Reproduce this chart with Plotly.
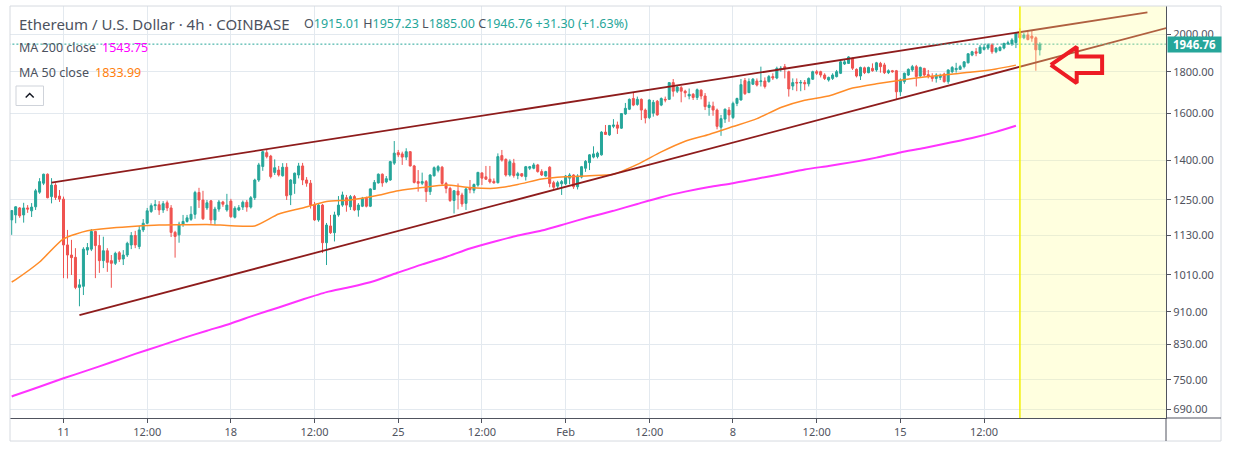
import math
import pandas as pd
import plotly.graph_objects as go

# ---------------- data ----------------
bar_start = "2021-01-08 20:00"   # first 4h bar

opens = [
    1181, 1198, 1222, 1198, 1222, 1212, 1226, 1278, 1311, 1345,
    1262, 1304, 1264, 1253, 1100, 1069, 1062, 975, 978, 1084,
    1087, 1143, 1098, 1052, 1082, 1052, 1044, 1076, 1057, 1069,
    1100, 1130, 1095, 1148, 1170, 1210, 1230, 1233, 1215, 1240,
    1222, 1140, 1132, 1167, 1176, 1183, 1200, 1277, 1250, 1222,
    1247, 1181, 1218, 1243, 1215, 1246, 1190, 1215, 1225, 1242,
    1225, 1258, 1323, 1375, 1430, 1416, 1352, 1361, 1339, 1372,
    1268, 1310, 1342, 1377, 1323, 1311, 1232, 1181, 1232, 1107,
    1161, 1139, 1198, 1232, 1258, 1226, 1262, 1215, 1228, 1256,
    1228, 1288, 1312, 1345, 1316, 1323, 1388, 1430, 1425, 1412,
    1434, 1377, 1317, 1311, 1317, 1280, 1339, 1360, 1372, 1310,
    1292, 1248, 1282, 1268, 1238, 1294, 1285, 1304, 1350, 1335,
    1326, 1318, 1313, 1418, 1403, 1342, 1388, 1340, 1347, 1336,
    1368, 1368, 1381, 1355, 1338, 1372, 1313, 1300, 1309, 1309,
    1330, 1342, 1298, 1334, 1368, 1390, 1412, 1414, 1421, 1516,
    1504, 1541, 1547, 1533, 1596, 1618, 1668, 1640, 1664, 1614,
    1580, 1600, 1655, 1637, 1664, 1664, 1745, 1703, 1720, 1703,
    1680, 1688, 1673, 1708, 1680, 1626, 1632, 1614, 1537, 1573,
    1614, 1580, 1645, 1661, 1755, 1696, 1737, 1753, 1750, 1753,
    1750, 1775, 1768, 1812, 1826, 1800, 1728, 1746, 1743, 1746,
    1739, 1762, 1800, 1800, 1783, 1758, 1766, 1775, 1792, 1840,
    1843, 1869, 1812, 1778, 1820, 1795, 1817, 1809, 1843, 1835,
    1795, 1805, 1805, 1700, 1750, 1783, 1809, 1826, 1778, 1817,
    1785, 1775, 1766, 1771, 1788, 1750, 1800, 1810, 1812, 1826,
    1846, 1887, 1905, 1897, 1918, 1925, 1942, 1905, 1912, 1925,
    1948, 1948, 1955, 2007, 1982, 1998, 1992, 1982, 1915.01,
]
highs = [
    1215, 1228, 1225, 1240, 1232, 1239, 1290, 1330, 1347, 1348,
    1330, 1311, 1286, 1262, 1148, 1116, 1090, 998, 1093, 1106,
    1151, 1145, 1132, 1126, 1090, 1069, 1079, 1081, 1084, 1110,
    1141, 1145, 1161, 1184, 1222, 1238, 1250, 1246, 1246, 1248,
    1232, 1145, 1175, 1198, 1198, 1228, 1283, 1294, 1283, 1250,
    1250, 1226, 1250, 1247, 1272, 1254, 1228, 1232, 1248, 1250,
    1264, 1328, 1389, 1438, 1444, 1421, 1403, 1377, 1388, 1388,
    1326, 1351, 1389, 1389, 1334, 1323, 1243, 1236, 1236, 1171,
    1198, 1209, 1264, 1280, 1268, 1268, 1268, 1239, 1261, 1262,
    1292, 1323, 1348, 1348, 1338, 1397, 1478, 1441, 1434, 1448,
    1436, 1381, 1361, 1351, 1323, 1345, 1375, 1380, 1377, 1316,
    1298, 1286, 1310, 1276, 1294, 1323, 1310, 1354, 1352, 1377,
    1377, 1329, 1427, 1441, 1407, 1403, 1405, 1354, 1349, 1377,
    1377, 1389, 1385, 1364, 1358, 1376, 1320, 1320, 1323, 1342,
    1349, 1345, 1345, 1377, 1400, 1424, 1456, 1434, 1520, 1547,
    1547, 1573, 1562, 1600, 1647, 1668, 1696, 1677, 1668, 1621,
    1664, 1661, 1661, 1673, 1677, 1748, 1763, 1728, 1728, 1710,
    1716, 1694, 1716, 1712, 1694, 1653, 1653, 1621, 1592, 1621,
    1628, 1653, 1672, 1763, 1768, 1766, 1768, 1766, 1826, 1771,
    1783, 1792, 1826, 1829, 1840, 1805, 1766, 1766, 1758, 1758,
    1771, 1805, 1809, 1805, 1792, 1775, 1792, 1809, 1861, 1865,
    1881, 1874, 1817, 1826, 1826, 1826, 1843, 1851, 1851, 1846,
    1812, 1809, 1809, 1766, 1795, 1817, 1835, 1835, 1826, 1820,
    1809, 1792, 1792, 1790, 1795, 1812, 1829, 1846, 1835, 1855,
    1897, 1910, 1925, 1942, 1948, 1951, 1951, 1930, 1934, 1954,
    1966, 1980, 2013, 2036, 2009, 2020, 2024, 1990, 1957.23,
]
lows = [
    1132, 1170, 1188, 1172, 1205, 1191, 1215, 1272, 1304, 1256,
    1238, 1250, 1243, 1001, 1000, 1010, 970, 924, 954, 1069,
    1081, 1001, 1016, 1030, 1019, 974, 1039, 1048, 1039, 1063,
    1087, 1090, 1087, 1141, 1167, 1205, 1215, 1198, 1205, 1211,
    1125, 1061, 1107, 1158, 1172, 1178, 1185, 1222, 1181, 1215,
    1168, 1164, 1209, 1226, 1209, 1188, 1186, 1211, 1215, 1209,
    1220, 1250, 1316, 1358, 1407, 1329, 1342, 1336, 1336, 1250,
    1232, 1272, 1329, 1304, 1298, 1220, 1178, 1175, 1075, 1039,
    1135, 1111, 1192, 1226, 1209, 1215, 1211, 1192, 1225, 1224,
    1225, 1286, 1310, 1298, 1311, 1320, 1381, 1412, 1381, 1400,
    1375, 1310, 1280, 1304, 1243, 1268, 1336, 1352, 1304, 1274,
    1243, 1203, 1217, 1226, 1215, 1274, 1274, 1298, 1304, 1323,
    1310, 1310, 1310, 1394, 1336, 1336, 1332, 1326, 1334, 1321,
    1361, 1364, 1351, 1338, 1336, 1296, 1286, 1290, 1268, 1304,
    1307, 1290, 1288, 1329, 1354, 1361, 1407, 1407, 1418, 1504,
    1500, 1533, 1508, 1530, 1592, 1614, 1632, 1634, 1569, 1554,
    1573, 1584, 1588, 1632, 1650, 1661, 1677, 1694, 1650, 1674,
    1664, 1661, 1661, 1664, 1614, 1588, 1588, 1528, 1500, 1556,
    1561, 1573, 1632, 1658, 1685, 1694, 1733, 1726, 1726, 1716,
    1745, 1758, 1762, 1800, 1766, 1677, 1708, 1703, 1703, 1708,
    1726, 1758, 1783, 1771, 1758, 1750, 1758, 1771, 1788, 1835,
    1840, 1809, 1771, 1758, 1788, 1792, 1800, 1800, 1795, 1788,
    1788, 1795, 1661, 1680, 1739, 1778, 1800, 1726, 1771, 1775,
    1766, 1750, 1745, 1758, 1745, 1739, 1792, 1795, 1809, 1817,
    1843, 1881, 1881, 1894, 1912, 1915, 1894, 1897, 1907, 1918,
    1942, 1937, 1925, 1974, 1974, 1968, 1960, 1805, 1885.00,
]
closes = [
    1213, 1226, 1195, 1222, 1218, 1225, 1283, 1317, 1345, 1258,
    1304, 1259, 1253, 1100, 1069, 1061, 975, 982, 1087, 1092,
    1143, 1098, 1052, 1082, 1047, 1044, 1074, 1056, 1069, 1105,
    1130, 1100, 1148, 1170, 1212, 1230, 1233, 1215, 1237, 1222,
    1140, 1127, 1167, 1176, 1188, 1200, 1277, 1250, 1185, 1240,
    1181, 1218, 1243, 1235, 1232, 1192, 1221, 1223, 1242, 1225,
    1258, 1323, 1381, 1434, 1414, 1336, 1370, 1342, 1372, 1265,
    1323, 1349, 1377, 1323, 1311, 1232, 1181, 1232, 1107, 1164,
    1139, 1198, 1232, 1268, 1232, 1262, 1215, 1232, 1256, 1228,
    1290, 1314, 1345, 1312, 1328, 1394, 1428, 1421, 1412, 1434,
    1377, 1314, 1311, 1317, 1280, 1342, 1370, 1374, 1310, 1292,
    1248, 1283, 1268, 1236, 1290, 1287, 1306, 1352, 1330, 1326,
    1316, 1312, 1414, 1400, 1342, 1394, 1340, 1347, 1338, 1374,
    1374, 1381, 1355, 1342, 1355, 1310, 1296, 1313, 1317, 1338,
    1342, 1298, 1338, 1374, 1395, 1421, 1425, 1428, 1516, 1506,
    1545, 1547, 1533, 1598, 1622, 1664, 1637, 1664, 1614, 1578,
    1661, 1650, 1592, 1668, 1661, 1745, 1703, 1723, 1703, 1695,
    1688, 1673, 1710, 1680, 1630, 1637, 1614, 1541, 1575, 1618,
    1592, 1645, 1668, 1735, 1691, 1750, 1762, 1733, 1753, 1726,
    1775, 1768, 1817, 1817, 1817, 1714, 1745, 1743, 1746, 1739,
    1766, 1800, 1792, 1783, 1766, 1771, 1783, 1800, 1851, 1851,
    1877, 1818, 1778, 1822, 1795, 1822, 1805, 1846, 1826, 1795,
    1805, 1800, 1700, 1758, 1792, 1812, 1826, 1775, 1822, 1783,
    1775, 1766, 1783, 1778, 1750, 1809, 1822, 1817, 1826, 1851,
    1894, 1905, 1897, 1930, 1930, 1942, 1905, 1925, 1930, 1951,
    1954, 1970, 2009, 1982, 1998, 1972, 1980, 1915.46, 1946.76,
]

ma_days = (["2021-01-08 20:00"]
           + [d.strftime("%Y-%m-%d") for d in pd.date_range("2021-01-09", "2021-02-19", freq="D")]
           + ["2021-02-19 20:00"])
ma50 = [990, 997, 1048, 1119, 1145, 1154, 1160, 1164, 1165, 1166,
        1162, 1161, 1201, 1222, 1245, 1250, 1264, 1283, 1295, 1304,
        1295, 1292, 1306, 1327, 1335, 1339, 1345, 1383, 1433, 1477,
        1506, 1540, 1575, 1626, 1660, 1680, 1718, 1739, 1757, 1773,
        1786, 1798, 1814, 1833.99]
ma200 = [715, 718, 735, 753, 770, 788, 807, 825, 844, 862,
         880, 901, 921, 942, 962, 976, 993, 1017, 1041, 1063,
         1089, 1110, 1130, 1146, 1168, 1191, 1212, 1236, 1260, 1280,
         1297, 1311, 1328, 1345, 1363, 1377, 1392, 1410, 1431, 1449,
         1470, 1491, 1517, 1543.75]

# wedge trend lines (date, price)
upper_t = ["2021-01-10 12:00", "2021-02-25 08:00"]
upper_p = [1313, 2131]
lower_t = ["2021-01-11 16:00", "2021-02-27 00:00"]
lower_p = [901, 2070]

# highlighted future zone start
zone_start = "2021-02-20 00:00"
zone_end = "2021-03-10 00:00"

# red arrow drawn on the chart (date, price)
arrow_t = ["2021-02-21 07:00", "2021-02-22 09:00", "2021-02-22 09:00", "2021-02-23 10:30",
           "2021-02-23 10:30", "2021-02-22 09:00", "2021-02-22 09:00", "2021-02-21 07:00"]
arrow_p = [1835, 1931, 1880, 1880, 1793, 1793, 1743, 1835]

last_price = 1946.76
ma200_last = "1543.75"
ma50_last = "1833.99"

x_ticks = ["2021-01-11", "2021-01-14 12:00", "2021-01-18", "2021-01-21 12:00",
           "2021-01-25", "2021-01-28 12:00", "2021-02-01", "2021-02-04 12:00",
           "2021-02-08", "2021-02-11 12:00", "2021-02-15", "2021-02-18 12:00"]
x_labels = ["11", "12:00", "18", "12:00", "25", "12:00", "Feb", "12:00", "8", "12:00", "15", "12:00"]
y_ticks = [690, 750, 830, 910, 1010, 1130, 1250, 1400, 1600, 1800, 2000]
y_labels = [f"{v:.2f}" for v in y_ticks]

x_range = ["2021-01-08 18:18", "2021-02-26 02:38"]
y_range = [math.log10(672.6), math.log10(2169.6)]

# ---------------- figure ----------------
UP, DOWN = "#26a69a", "#ef5350"
FONT = "Noto Sans"
times = pd.date_range(bar_start, periods=len(opens), freq="4h")

fig = go.Figure()
fig.add_trace(go.Candlestick(
    x=times, open=opens, high=highs, low=lows, close=closes,
    increasing=dict(line=dict(color=UP, width=1), fillcolor=UP),
    decreasing=dict(line=dict(color=DOWN, width=1), fillcolor=DOWN),
    whiskerwidth=0, hoverinfo="skip", showlegend=False))

fig.add_trace(go.Scatter(x=ma_days, y=ma200, mode="lines", line=dict(color="#ff33ff", width=2, shape="spline", smoothing=0.6),
                         hoverinfo="skip", showlegend=False))
fig.add_trace(go.Scatter(x=ma_days, y=ma50, mode="lines", line=dict(color="#ff8c28", width=1.5, shape="spline", smoothing=0.6),
                         hoverinfo="skip", showlegend=False))
fig.add_trace(go.Scatter(x=upper_t, y=upper_p, mode="lines", line=dict(color="#8e1c1c", width=1.8),
                         hoverinfo="skip", showlegend=False))
fig.add_trace(go.Scatter(x=lower_t, y=lower_p, mode="lines", line=dict(color="#8e1c1c", width=1.8),
                         hoverinfo="skip", showlegend=False))
# price line
fig.add_trace(go.Scatter(x=["2021-01-01", zone_end], y=[last_price, last_price], mode="lines",
                         line=dict(color=UP, width=1, dash="2px,2px"), hoverinfo="skip", showlegend=False))
# translucent yellow zone over everything drawn so far
fig.add_trace(go.Scatter(x=[zone_start, zone_end, zone_end, zone_start, zone_start],
                         y=[400, 400, 4000, 4000, 400], mode="lines", fill="toself",
                         fillcolor="rgba(255,255,150,0.30)", line=dict(width=0),
                         hoverinfo="skip", showlegend=False))
# red arrow
fig.add_trace(go.Scatter(x=arrow_t, y=arrow_p, mode="lines", line=dict(color="#ed1c24", width=4),
                         hoverinfo="skip", showlegend=False))

L, T, W, H = 10, 6, 1156, 412


def px(x):
    return (x - L) / W


def py(y):
    return (T + H - y) / H


GRID = "#e3e9ef"
AXIS = "#50535e"
fig.update_layout(
    width=1241, height=449,
    margin=dict(l=L, r=1241 - L - W, t=T, b=449 - T - H, autoexpand=False),
    paper_bgcolor="white", plot_bgcolor="white",
    font=dict(family=FONT, color="#4c525e"),
    hovermode=False, dragmode=False, showlegend=False, boxgap=0.28,
    xaxis=dict(type="date", range=x_range, tickvals=x_ticks, ticktext=x_labels,
               showgrid=True, gridcolor=GRID, gridwidth=1, zeroline=False,
               ticks="outside", ticklen=4, tickcolor=AXIS, showline=True, linecolor=AXIS, linewidth=1,
               tickfont=dict(size=11, color="#50535e"), rangeslider=dict(visible=False), fixedrange=True),
    yaxis=dict(type="log", range=y_range, side="right", tickvals=y_ticks, ticktext=y_labels,
               showgrid=True, gridcolor=GRID, gridwidth=1, zeroline=False,
               ticks="outside", ticklen=4, tickcolor=AXIS, showline=True, linecolor=AXIS, linewidth=1,
               tickfont=dict(size=11, color="#50535e"), fixedrange=True),
)

shapes = [
    # yellow left edge of the zone
    dict(type="line", xref="x", yref="paper", x0=zone_start, x1=zone_start, y0=0, y1=1,
         line=dict(color="#f2f000", width=1.5), layer="above"),
    # outer frame
    dict(type="rect", xref="paper", yref="paper", x0=0, x1=px(1221), y0=py(441), y1=1,
         line=dict(color="#d6dae0", width=1), fillcolor="rgba(0,0,0,0)", layer="above"),
    # axis line extensions
    dict(type="line", xref="paper", yref="paper", x0=1, x1=px(1221), y0=0, y1=0,
         line=dict(color=AXIS, width=1), layer="above"),
    dict(type="line", xref="paper", yref="paper", x0=1, x1=1, y0=0, y1=py(441),
         line=dict(color=AXIS, width=1), layer="above"),
    # collapse button
    dict(type="rect", xref="paper", yref="paper", x0=px(16), x1=px(43.5), y0=py(105.5), y1=py(86),
         line=dict(color="#cfd3da", width=1), fillcolor="white", layer="above"),
    dict(type="path", xref="paper", yref="paper",
         path=f"M {px(25.7)} {py(97.5)} L {px(29.7)} {py(93.5)} L {px(33.7)} {py(97.5)}",
         line=dict(color="#131722", width=1.5), layer="above"),
]
fig.update_layout(shapes=shapes)

TEAL_TXT = "#26a69a"
ohlc = (f"O<span style='color:{TEAL_TXT}'>{opens[-1]:.2f}</span> "
        f"H<span style='color:{TEAL_TXT}'>{highs[-1]:.2f}</span> "
        f"L<span style='color:{TEAL_TXT}'>{lows[-1]:.2f}</span> "
        f"C<span style='color:{TEAL_TXT}'>{closes[-1]:.2f}</span> "
        f"<span style='color:{TEAL_TXT}'>+{closes[-1] - closes[-2]:.2f} "
        f"(+{(closes[-1] - closes[-2]) / closes[-2] * 100:.2f}%)</span>")

annots = [
    dict(x=px(20), y=py(23.5), text="Ethereum / U.S. Dollar · 4h · COINBASE",
         font=dict(size=15, color="#4c525e")),
    dict(x=px(305), y=py(23.5), text=ohlc, font=dict(size=12.5, color="#4c525e")),
    dict(x=px(20), y=py(47.5), text="MA 200 close", font=dict(size=12.5, color="#4c525e")),
    dict(x=px(103), y=py(47.5), text=ma200_last, font=dict(size=12.5, color="#ff00ff")),
    dict(x=px(20), y=py(72), text="MA 50 close", font=dict(size=12.5, color="#4c525e")),
    dict(x=px(96), y=py(72), text=ma50_last, font=dict(size=12.5, color="#ff7f0e")),
]
ann_list = []
for a in annots:
    a.update(xref="paper", yref="paper", xanchor="left", yanchor="middle", showarrow=False, xshift=-3)
    ann_list.append(a)
ann_list.append(dict(x=1, xref="paper", y=math.log10(last_price), yref="y",
                     text=f"<b>{last_price:.2f}</b>", showarrow=False, xanchor="left", yanchor="middle",
                     xshift=1, font=dict(size=11.5, color="white"), bgcolor=UP,
                     width=51, height=13, borderpad=1, align="center"))
fig.update_layout(annotations=ann_list)

fig.write_html("out.html")
